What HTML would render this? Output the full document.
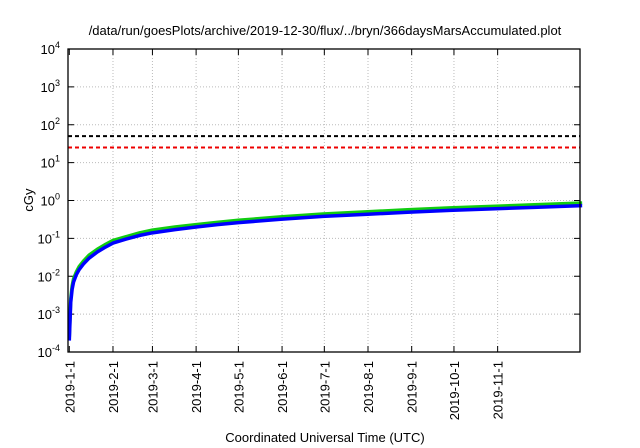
<!DOCTYPE html>
<html><head><meta charset="utf-8"><style>
body{margin:0;background:#fff}
svg{display:block;font-family:"Liberation Sans",Arial,sans-serif}
</style></head><body>
<svg id="c" width="640" height="448" viewBox="0 0 640 448"></svg>
<script>
const days=[0,1,2,3,5,7,10,14,20,25,31,40,50,59,75,90,105,120,150,180,210,240,270,300,330,364];
const blueVals=[0.0002,0.002,0.0045,0.007,0.011,0.015,0.021,0.03,0.044,0.057,0.075,0.095,0.12,0.14,0.17,0.2,0.23,0.26,0.32,0.38,0.43,0.49,0.55,0.6,0.66,0.73];
const greenVals=[0.00025,0.0025,0.0055,0.0085,0.013,0.018,0.025,0.036,0.052,0.067,0.088,0.11,0.14,0.165,0.2,0.23,0.265,0.3,0.37,0.44,0.5,0.57,0.64,0.7,0.77,0.86];
const refBlack=50, refRed=25;
const monthDays=[0,31,59,90,120,151,181,212,243,273,304];
const monthLabels=["2019-1-1","2019-2-1","2019-3-1","2019-4-1","2019-5-1","2019-6-1","2019-7-1","2019-8-1","2019-9-1","2019-10-1","2019-11-1"];
const yExps=[-4,-3,-2,-1,0,1,2,3,4];

const L=68,R=580,T=49,B=352;
const x=d=>69.3+d*1.409;
const y=v=>B-(Math.log10(v)+4)*(B-T)/8;
const svg=document.getElementById('c');
const NS='http://www.w3.org/2000/svg';
function el(t,a,p){const e=document.createElementNS(NS,t);for(const k in a)e.setAttribute(k,a[k]);(p||svg).appendChild(e);return e;}

let g=el('g',{});


yExps.forEach(e=>{const yy=y(Math.pow(10,e));
 if(e>-4&&e<4){el('line',{x1:L,x2:R,y1:yy,y2:yy,stroke:'#bbb','stroke-dasharray':'1,2','stroke-width':1},g);}
 el('line',{x1:L,x2:L+6,y1:yy,y2:yy,stroke:'#000'});el('line',{x1:R,x2:R-6,y1:yy,y2:yy,stroke:'#000'});
 const t=el('text',{x:L-8,y:yy+5,'text-anchor':'end','font-size':13});
 
 
 t.innerHTML='10<tspan dy="-6" font-size="9">'+e+'</tspan>';
});
monthDays.forEach((d,i)=>{const xx=x(d);
 if(i>0)el('line',{x1:xx,x2:xx,y1:T,y2:B,stroke:'#bbb','stroke-dasharray':'1,2'},g);
 el('line',{x1:xx,x2:xx,y1:B,y2:B-6,stroke:'#000'});el('line',{x1:xx,x2:xx,y1:T,y2:T+6,stroke:'#000'});
 const t=el('text',{x:0,y:0,'text-anchor':'end','font-size':13,transform:`translate(${xx+5},${B+9}) rotate(-90)`});
 
 
 t.textContent=monthLabels[i];
});
let l1=el('line',{x1:L,x2:R,y1:y(refBlack),y2:y(refBlack),stroke:'#000','stroke-width':2,'stroke-dasharray':'4,3'});


let l2=el('line',{x1:L,x2:R,y1:y(refRed),y2:y(refRed),stroke:'#e00','stroke-width':2,'stroke-dasharray':'4,3'});


function pl(vals,c,w,name){const p=el('polyline',{points:days.map((d,i)=>x(d)+','+y(vals[i])).join(' '),fill:'none',stroke:c,'stroke-width':w,'stroke-linejoin':'round'});
 
 }
pl(greenVals,'#1c1',3.5,'green-series');
pl(blueVals,'#00f',3.5,'blue-series');
let fr=el('rect',{x:L,y:T,width:R-L,height:B-T,fill:'none',stroke:'#000','stroke-width':1.3});


let tt=el('text',{x:325,y:35,'text-anchor':'middle','font-size':13});


tt.textContent='/data/run/goesPlots/archive/2019-12-30/flux/../bryn/366daysMarsAccumulated.plot';
let yt=el('text',{x:0,y:0,'text-anchor':'middle','font-size':13,transform:'translate(33,200) rotate(-90)'});


yt.textContent='cGy';
let xt=el('text',{x:325,y:442,'text-anchor':'middle','font-size':13});


xt.textContent='Coordinated Universal Time (UTC)';
</script>
</body></html>
